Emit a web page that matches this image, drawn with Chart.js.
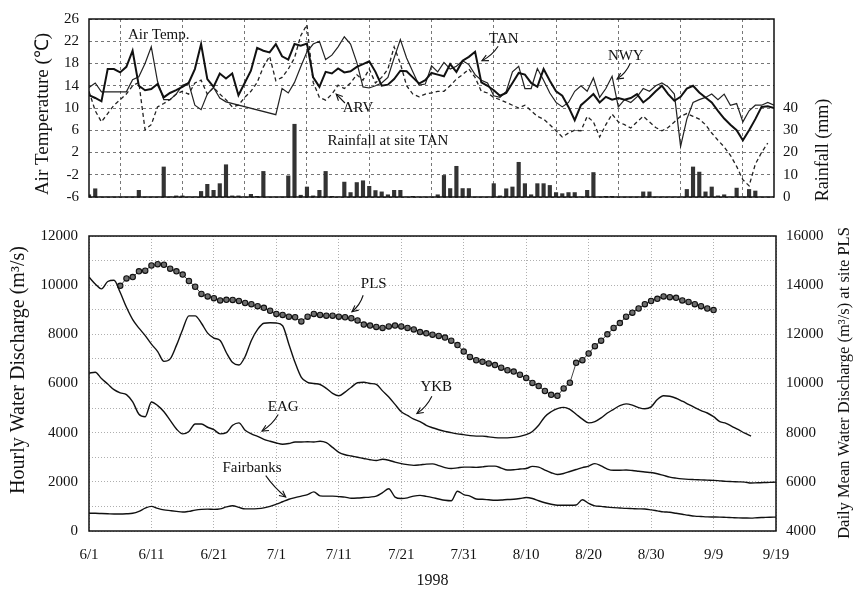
<!DOCTYPE html>
<html>
<head>
<meta charset="utf-8">
<script src="https://cdn.jsdelivr.net/npm/chart.js@4/dist/chart.umd.min.js"></script>
<style>
  html, body { margin: 0; padding: 0; background: #fff; }
  #wrap { position: relative; width: 856px; height: 591px; }
  canvas { position: absolute; left: 0; }
  #topChart { top: 0; }
  #bottomChart { top: 216px; }
</style>
</head>
<body>
<div id="wrap">
  <canvas id="topChart" width="856" height="216" style="width:856px;height:216px"></canvas>
  <canvas id="bottomChart" width="856" height="375" style="width:856px;height:375px"></canvas>
</div>
<script>
// ---- tick labels ----
const dateTickLabels = ['6/1','6/11','6/21','7/1','7/11','7/21','7/31','8/10','8/20','8/30','9/9','9/19'];
const tempTickLabels = [-6, -2, 2, 6, 10, 14, 18, 22, 26];
const rainTickLabels = [0, 10, 20, 30, 40];
const flowTickLabels = [0, 2000, 4000, 6000, 8000, 10000, 12000];
const plsTickLabels = [4000, 6000, 8000, 10000, 12000, 14000, 16000];

// ---- daily air temperature (deg C), day 0 = 6/1 ----
const tempTAN = [
  12.3, 11.8, 11.2, 17.0, 17.0, 16.4, 17.4, 20.3, 14.0, 13.2, 13.4,
  14.3, 11.9, 12.7, 13.2, 13.8, 14.5, 17.0, 21.5, 15.2, 13.8,
  16.2, 15.3, 16.2, 12.3, 14.5, 16.7, 20.8, 20.3, 20.0, 21.5,
  19.3, 18.7, 21.5, 21.2, 21.6, 15.5, 13.8, 16.5, 16.2, 17.1,
  16.4, 16.6, 17.4, 17.9, 18.4, 16.5, 14.0, 14.2, 15.2, 16.7,
  16.6, 15.5, 14.4, 15.0, 16.3, 16.0, 15.7, 17.9, 16.5, 18.5,
  19.2, 20.1, 14.6, 14.0, 13.2, 12.2, 12.7, 14.5, 16.3, 16.0,
  14.5, 13.8, 17.0, 14.9, 13.0, 12.2, 10.2, 7.8, 10.5, 11.5,
  12.5, 11.0, 12.0, 11.5, 11.8, 11.5, 11.8, 12.5, 11.0, 11.9,
  13.0, 14.0, 12.5, 11.3, 12.0, 13.5, 14.0, 12.8, 11.9, 11.0,
  9.5, 8.1, 7.0, 6.0, 4.2, 6.0, 8.0, 10.2, 10.3, 10.0
];
const tempNWY = [
  13.7, 14.5, 12.9, null, null, null, 12.9, 15.1, 15.6, 18.0, 21.0,
  14.8, 11.5, 11.5, 12.5, 14.1, 14.5, 10.5, 9.7, 12.5, 13.7,
  11.8, 11.1, null, null, null, null, null, null, null, 8.8,
  13.5, 12.7, 14.6, 17.4, 20.1, 21.5, 22.0, 18.7, 19.5, 21.0,
  22.8, 21.5, 18.2, 13.8, 13.6, 14.0, 14.5, 15.5, 19.0, 22.3,
  19.0, 16.5, 14.1, 14.3, 17.6, 16.5, 18.2, 17.0, 17.5, 18.5,
  17.8, 16.0, 15.0, 14.5, 12.2, 11.9, 13.0, 16.5, 17.5, 13.5,
  13.5, 17.1, 15.0, 12.7, 11.0, 10.2, 11.0, 13.0, 14.0, 13.0,
  15.4, 11.9, 13.5, 15.7, 10.2, 11.5, 11.0, 12.0, 13.5, 13.0,
  14.0, 14.5, 13.8, 12.5, 3.1, 8.0, 11.0, 11.5, 11.9, 12.5,
  11.5, 12.5, 10.5, 10.8, 7.5, 9.5, 10.5, 10.5, 11.0, 10.5
];
const tempARV = [
  13.0, 9.5, 7.5, 9.0, 10.5, 11.5, 12.5, 14.0, 14.6, 6.1, 7.0,
  10.2, 10.8, 11.5, 12.5, 13.0, 12.5, 14.5, 15.0, 12.5, 13.7,
  12.5, 11.5, 10.2, 10.5, 11.9, 13.0, 14.6, 17.4, 19.3, 14.9,
  15.5, 17.0, 19.0, 23.0, 25.0, 14.6, 11.9, 11.4, 12.5, 14.1,
  13.5, 14.5, 16.0, 15.0, 17.0, 14.5, 15.5, 17.0, 21.0, 18.0,
  14.0, 12.5, 12.0, 12.5, 12.7, 13.0, 13.0, 14.0, 15.2, 16.0,
  17.0, 15.5, 13.0, 12.7, 11.9, 11.5, 11.0, 10.5, 10.0, 10.5,
  9.5, 8.5, 8.0, 7.0, 5.9, 4.8, 5.5, 6.0, 5.9, 8.5,
  7.5, 4.8, 7.0, 8.9, 7.5, 7.0, 6.4, 7.5, 8.5, 7.5,
  6.5, 5.9, 6.5, 7.5, 8.5, 9.0, 8.5, 8.0, 7.0, 5.5,
  4.2, 3.0, 1.5, -0.5, -2.9, -4.0, -0.1, 2.0, 3.7, null
];

// ---- daily rainfall at TAN (mm) ----
const rainTAN = [
  1, 3.7, 0, 0, 0, 0, 0, 0, 3, 0,
  0, 0, 13.5, 0, 0.5, 0.5, 0, 0, 2.5, 5.7,
  3, 6, 14.5, 0.5, 0.5, 0, 1.2, 0.3, 11.5, 0,
  0, 0, 9.5, 32.7, 0.8, 4.5, 0.5, 3, 11.5, 0.3,
  0, 6.7, 2, 6.5, 7.3, 4.8, 2.9, 2.3, 1, 3,
  3, 0, 0.3, 0, 0, 0, 1, 9.7, 3.8, 13.8,
  3.8, 3.8, 0, 0, 0, 6, 0.5, 3.7, 4.5, 15.6,
  6, 1, 6, 6, 5.2, 2, 1.5, 2, 2, 0,
  3, 11, 0, 0.3, 0.3, 0, 0, 0, 0, 2.3,
  2.3, 0, 0, 0, 0, 0, 3.4, 13.5, 11.2, 2.3,
  4.5, 0.5, 1, 0, 4, 0, 3.4, 2.7, 0, 0, 0
];

// ---- hourly water discharge (m3/s), sampled daily from day 0 ----
const flowYKB = [
  10330, 10050, 9850, 10150, 10200, 9700, 9100, 8600, 8250, 7950,
  7600, 7300, 6900, 7000, 7550, 8200, 8750, 8750, 8450, 8050,
  7850, 7750, 7250, 6850, 6750, 7100, 7750, 8200, 8450, 8470,
  8460, 8350, 7600, 6850, 6250, 6050, 6000, 5960, 5800, 5600,
  5500, 5650, 5850, 6030, 6050, 6000, 5960, 5700, 5450, 5150,
  4850, 4700, 4550, 4450, 4300, 4200, 4120, 4050, 4000, 3950,
  3920, 3880, 3860, 3860, 3830, 3800, 3790, 3790, 3810, 3850,
  3920, 4050, 4300, 4650, 4850, 4980, 5030, 4950, 4750, 4550,
  4400, 4450, 4600, 4800, 4950, 5100, 5170, 5120, 5020, 4970,
  5050, 5350, 5500, 5480, 5400, 5280, 5150, 5020, 4900, 4800,
  4650, 4450, 4380, 4250, 4120, 3980, 3860
];
const flowEAG = [
  6420, 6460, 6200, 5980, 5750, 5620, 5550, 5250, 4750, 4650,
  5250, 5100, 4850, 4500, 4150, 3950, 4050, 4350, 4350, 4220,
  4120, 3950, 4000, 4300, 4400, 4100, 3950, 3850, 3730, 3650,
  3580, 3530, 3560, 3620, 3620, 3630, 3620, 3650, 3590, 3400,
  3200, 3100, 3050, 3000, 2950, 2900, 2870, 2920, 2880, 2800,
  2740, 2700, 2670, 2690, 2720, 2730, 2660, 2580, 2540, 2570,
  2600, 2600, 2590, 2610, 2640, 2640, 2560, 2480, 2490, 2520,
  2540, 2630, 2600, 2480, 2370, 2300, 2340, 2420, 2500, 2580,
  2640, 2740, 2650, 2520, 2470, 2470, 2480, 2460, 2430, 2400,
  2380, 2330, 2260, 2190, 2150, 2120, 2100, 2090, 2080, 2070,
  2060, 2040, 2020, 2010, 2000, 1990, 1950, 1960, 1970, 1980,
  1990
];
const flowFairbanks = [
  725, 720, 710, 700, 690, 690, 700, 720, 800, 930,
  1000, 920, 860, 830, 800, 770, 800, 850, 880, 890,
  880, 900, 980, 1030, 960, 900, 900, 910, 940, 1000,
  1090, 1190, 1290, 1360, 1420, 1480, 1590, 1430, 1420, 1420,
  1400, 1380, 1330, 1340, 1360, 1380, 1420, 1560, 1720, 1380,
  1320, 1350, 1420, 1450, 1410, 1360, 1300, 1250, 1230, 1620,
  1480, 1420, 1300, 1290, 1270, 1250, 1260, 1280, 1290, 1320,
  1360, 1320, 1230, 1150, 1090, 1050, 1050, 1050, 1060, 1270,
  1120, 1020, 1000, 970, 950, 935, 920, 910, 900, 895,
  860, 820, 780, 760, 720, 680, 640, 605, 590, 575,
  570, 565, 555, 545, 535, 530, 525, 540, 550, 560,
  565
];
// daily mean discharge at PLS (m3/s), from day 5 (6/6) to day 100 (9/9)
const plsStartDay = 5;
const flowPLS = [
  13975, 14275, 14330, 14565, 14590, 14800, 14855, 14830, 14670, 14565,
  14430, 14170, 13935, 13645, 13540, 13470, 13380, 13405, 13400, 13355,
  13275, 13225, 13145, 13080, 12960, 12830, 12790, 12720, 12695, 12525,
  12720, 12830, 12790, 12760, 12760, 12720, 12695, 12655, 12565, 12395,
  12355, 12300, 12260, 12320, 12355, 12320, 12260, 12200, 12090, 12040,
  11985, 11935, 11870, 11740, 11565, 11300, 11080, 10945, 10880, 10815,
  10750, 10645, 10540, 10485, 10355, 10225, 10025, 9895, 9695, 9540,
  9500, 9800, 10030, 10840, 10950, 11220, 11520, 11740, 12000, 12260,
  12460, 12720, 12880, 13050, 13225, 13355, 13445, 13540, 13510, 13485,
  13380, 13315, 13225, 13145, 13050, 12985
];

// turn a day-indexed list into {x, y} points
function series(values, startDay) {
  return values.map((v, i) => ({ x: startDay + i, y: v }));
}

Chart.defaults.font.family = "'Liberation Serif', 'Times New Roman', serif";
Chart.defaults.font.size = 15;
Chart.defaults.color = '#111';

const FONT = "'Liberation Serif', 'Times New Roman', serif";

function drawArrow(ctx, x1, y1, x2, y2, bend) {
  const dx = x2 - x1, dy = y2 - y1, len = Math.hypot(dx, dy);
  const cx = (x1 + x2) / 2 - dy / len * bend;
  const cy = (y1 + y2) / 2 + dx / len * bend;
  ctx.beginPath();
  ctx.moveTo(x1, y1);
  ctx.quadraticCurveTo(cx, cy, x2, y2);
  ctx.stroke();
  const ang = Math.atan2(y2 - cy, x2 - cx), h = 7;
  ctx.beginPath();
  ctx.moveTo(x2 - h * Math.cos(ang - 0.45), y2 - h * Math.sin(ang - 0.45));
  ctx.lineTo(x2, y2);
  ctx.lineTo(x2 - h * Math.cos(ang + 0.45), y2 - h * Math.sin(ang + 0.45));
  ctx.stroke();
}

function verticalText(ctx, text, x, y, size) {
  ctx.save();
  ctx.translate(x, y);
  ctx.rotate(-Math.PI / 2);
  ctx.font = size + 'px ' + FONT;
  ctx.textAlign = 'center';
  ctx.textBaseline = 'middle';
  ctx.fillStyle = '#111';
  ctx.fillText(text, 0, 0);
  ctx.restore();
}

// frame, in-plot labels with arrows, and axis titles
function decorations(notes, arrows, titles) {
  return {
    id: 'decorations',
    afterDraw(chart) {
      const { ctx, chartArea: a, scales } = chart;
      ctx.save();
      ctx.strokeStyle = '#111';
      ctx.lineWidth = 1.5;
      ctx.strokeRect(a.left, a.top, a.right - a.left, a.bottom - a.top);

      ctx.font = '15px ' + FONT;
      ctx.fillStyle = '#111';
      ctx.textAlign = 'center';
      ctx.textBaseline = 'middle';
      notes.forEach(n => {
        ctx.fillText(n.text, scales.x.getPixelForValue(n.day), scales.y.getPixelForValue(n.val));
      });
      ctx.lineWidth = 1.1;
      arrows.forEach(r => {
        drawArrow(ctx,
          scales.x.getPixelForValue(r.from[0]), scales.y.getPixelForValue(r.from[1]),
          scales.x.getPixelForValue(r.to[0]), scales.y.getPixelForValue(r.to[1]), r.bend);
      });
      ctx.restore();
      titles.forEach(t => verticalText(ctx, t.text, t.x, t.y, t.size));
    }
  };
}

const dashedGrid = { color: '#555', lineWidth: 0.8, drawTicks: false };
const dottedGrid = { color: '#9a9a9a', lineWidth: 0.8, drawTicks: false };

// ---------- upper panel: air temperature and rainfall ----------
new Chart(document.getElementById('topChart'), {
  type: 'line',
  data: {
    datasets: [
      { label: 'TAN', data: series(tempTAN, 0), borderColor: '#111', borderWidth: 2, pointRadius: 0, tension: 0, order: 1 },
      { label: 'NWY', data: series(tempNWY, 0), borderColor: '#222', borderWidth: 1.2, pointRadius: 0, tension: 0, spanGaps: true, order: 1 },
      { label: 'ARV', data: series(tempARV, 0), borderColor: '#222', borderWidth: 1.3, borderDash: [4, 3], pointRadius: 0, tension: 0, order: 1 },
      { type: 'bar', label: 'Rainfall at site TAN', data: series(rainTAN, 0), yAxisID: 'y2',
        backgroundColor: '#333', borderWidth: 0, barThickness: 3.5, order: 2 }
    ]
  },
  options: {
    responsive: false,
    animation: false,
    devicePixelRatio: 1,
    layout: { padding: { top: 14, left: 0, right: 0, bottom: 0 } },
    plugins: { legend: { display: false }, tooltip: { enabled: false } },
    scales: {
      x: {
        type: 'linear', min: 0, max: 110, offset: false,
        ticks: { display: false, stepSize: 10 },
        grid: dashedGrid,
        border: { display: false, dash: [3, 3] },
        afterFit: s => { s.height = 7; }
      },
      y: {
        min: -6, max: 26,
        ticks: { stepSize: 2, padding: 10, callback: v => tempTickLabels.includes(v) ? String(v) : '' },
        grid: dashedGrid,
        border: { display: false, dash: [3, 3] },
        afterFit: s => { s.width = 89; }
      },
      y2: {
        position: 'right', min: 0, max: 80,
        ticks: { stepSize: 10, padding: 9, callback: v => rainTickLabels.includes(v) ? String(v) : '' },
        grid: { display: false, drawTicks: false },
        border: { display: false },
        afterFit: s => { s.width = 82; }
      }
    }
  },
  plugins: [decorations(
    [
      { text: 'Air Temp.', day: 11.2, val: 23.2 },
      { text: 'TAN', day: 66.6, val: 22.4 },
      { text: 'NWY', day: 86.2, val: 19.3 },
      { text: 'ARV', day: 43.2, val: 9.9 },
      { text: 'Rainfall at site TAN', day: 48.0, val: 4.0 }
    ],
    [
      { from: [65.7, 21.1], to: [63.1, 18.5], bend: -3 },
      { from: [86.9, 18.0], to: [84.8, 15.2], bend: -3 },
      { from: [41.1, 10.9], to: [39.7, 12.5], bend: 0 }
    ],
    [
      { text: 'Air Temperature (\u2103)', x: 43, y: 114, size: 19 },
      { text: 'Rainfall (mm)', x: 823, y: 150, size: 18 }
    ]
  )]
});

// ---------- lower panel: water discharge ----------
const flowLine = { borderColor: '#111', borderWidth: 1.4, pointRadius: 0, tension: 0.4, cubicInterpolationMode: 'monotone' };

new Chart(document.getElementById('bottomChart'), {
  type: 'line',
  data: {
    datasets: [
      Object.assign({ label: 'YKB', data: series(flowYKB, 0) }, flowLine),
      Object.assign({ label: 'EAG', data: series(flowEAG, 0) }, flowLine),
      Object.assign({ label: 'Fairbanks', data: series(flowFairbanks, 0) }, flowLine),
      { label: 'PLS', data: series(flowPLS, plsStartDay), yAxisID: 'y2',
        borderColor: '#444', borderWidth: 1, tension: 0,
        pointRadius: 2.7, pointBackgroundColor: '#6e6e6e', pointBorderColor: '#111', pointBorderWidth: 1.1 }
    ]
  },
  options: {
    responsive: false,
    animation: false,
    devicePixelRatio: 1,
    layout: { padding: { top: 11, left: 0, right: 0, bottom: 0 } },
    plugins: { legend: { display: false }, tooltip: { enabled: false } },
    scales: {
      x: {
        type: 'linear', min: 0, max: 110, offset: false,
        ticks: { stepSize: 10, padding: 15, maxRotation: 0, autoSkip: false,
                 callback: v => dateTickLabels[Math.round(v / 10)] },
        grid: dottedGrid,
        border: { display: false, dash: [1, 2] },
        title: { display: true, text: '1998', font: { size: 16 }, padding: { top: 0, bottom: 1 } },
        afterFit: s => { s.height = 60; }
      },
      y: {
        min: 0, max: 12000,
        ticks: { stepSize: 1000, padding: 11, callback: v => flowTickLabels.includes(v) ? String(v) : '' },
        grid: dottedGrid,
        border: { display: false, dash: [1, 2] },
        afterFit: s => { s.width = 89; }
      },
      y2: {
        position: 'right', min: 4000, max: 16000,
        ticks: { stepSize: 2000, padding: 10, callback: v => plsTickLabels.includes(v) ? String(v) : '' },
        grid: { display: false, drawTicks: false },
        border: { display: false },
        afterFit: s => { s.width = 80; }
      }
    }
  },
  plugins: [decorations(
    [
      { text: 'PLS', day: 45.6, val: 10025 },
      { text: 'YKB', day: 55.6, val: 5840 },
      { text: 'EAG', day: 31.1, val: 5050 },
      { text: 'Fairbanks', day: 26.1, val: 2565 }
    ],
    [
      { from: [43.9, 9590], to: [42.1, 8920], bend: -3 },
      { from: [54.9, 5485], to: [52.5, 4775], bend: -3 },
      { from: [30.3, 4735], to: [27.7, 4065], bend: -3 },
      { from: [28.3, 2250], to: [31.5, 1380], bend: 2 }
    ],
    [
      { text: 'Hourly Water Discharge (m\u00b3/s)', x: 19, y: 154, size: 20 },
      { text: 'Daily Mean Water Discharge (m\u00b3/s) at site PLS', x: 845, y: 167, size: 16.5 }
    ]
  )]
});
</script>
</body>
</html>
